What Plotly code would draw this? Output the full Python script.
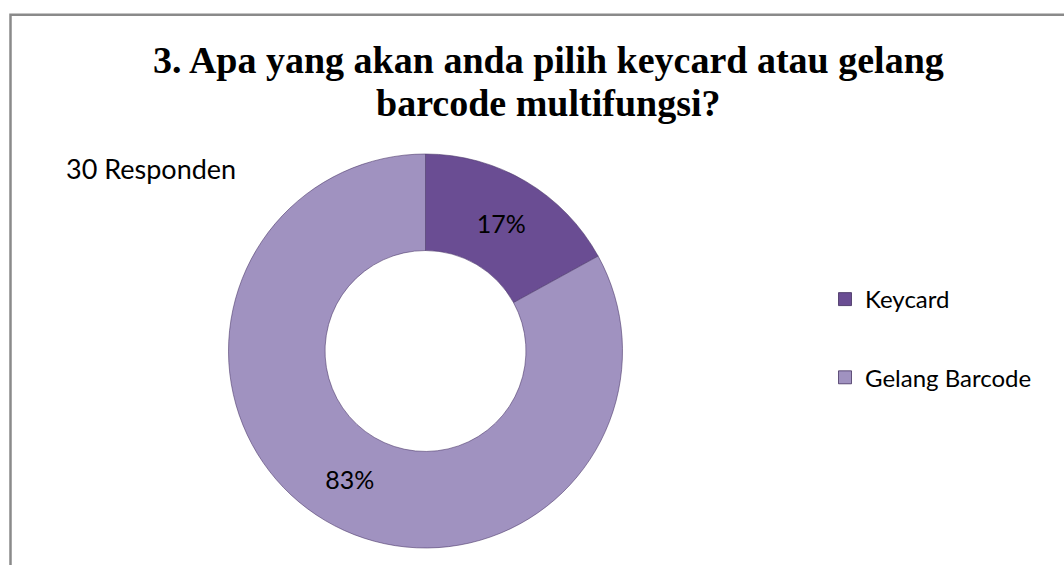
import plotly.graph_objects as go

# Data
labels = ["Keycard", "Gelang Barcode"]
values = [17, 83]
colors = ["#6A4D93", "#A092C0"]
title_lines = ["3. Apa yang akan anda pilih keycard atau gelang", "barcode multifungsi?"]
subtitle_text = "30 Responden"

W, H = 1064, 565
cx, cy, R = 425.5, 351, 197

fig = go.Figure()
fig.add_trace(go.Pie(
    labels=labels, values=values, hole=0.51, sort=False, direction="clockwise", rotation=0,
    marker=dict(colors=colors, line=dict(color="rgba(70,50,100,0.55)", width=1)),
    texttemplate="%{percent:.0%}", textposition="inside", insidetextorientation="horizontal",
    textfont=dict(family="Lato", size=25, color="black"),
    domain=dict(x=[(cx - R) / W, (cx + R) / W], y=[(H - cy - R) / H, (H - cy + R) / H]),
    showlegend=False, hoverinfo="label+percent",
))
# legend entries (one group each so spacing can be set)
for lab, col in zip(labels, colors):
    fig.add_trace(go.Scatter(
        x=[None], y=[None], mode="markers", name=lab, legendgroup=lab,
        marker=dict(symbol="square", size=13, color=col, line=dict(color="rgba(50,30,80,0.7)", width=1)),
    ))

title_ys = [60, 103]
annotations = [dict(text=t, x=548 / W, y=1 - yy / H, xref="paper", yref="paper",
                    xanchor="center", yanchor="middle", showarrow=False,
                    font=dict(family="Liberation Serif", size=38, color="black", weight="bold"))
               for t, yy in zip(title_lines, title_ys)]
annotations.append(dict(text=subtitle_text, x=64 / W, y=1 - 168 / H, xref="paper", yref="paper",
                        xanchor="left", yanchor="middle", showarrow=False,
                        font=dict(family="Lato", size=27, color="black")))

fig.update_layout(
    width=W, height=H, autosize=False,
    margin=dict(l=0, r=0, t=0, b=0),
    paper_bgcolor="white", plot_bgcolor="white",
    xaxis=dict(visible=False), yaxis=dict(visible=False),
    legend=dict(x=825 / W, y=1 - 277 / H, xanchor="left", yanchor="top",
                font=dict(family="Lato", size=24, color="black"),
                tracegroupgap=44, itemwidth=30, bgcolor="rgba(0,0,0,0)"),
    annotations=annotations,
    shapes=[dict(type="rect", xref="paper", yref="paper", x0=10.5 / W, x1=1.05,
                 y0=-0.05, y1=1 - 14.7 / H, line=dict(color="#8a8a8a", width=2.5))],
)

fig.write_html("out.html")
